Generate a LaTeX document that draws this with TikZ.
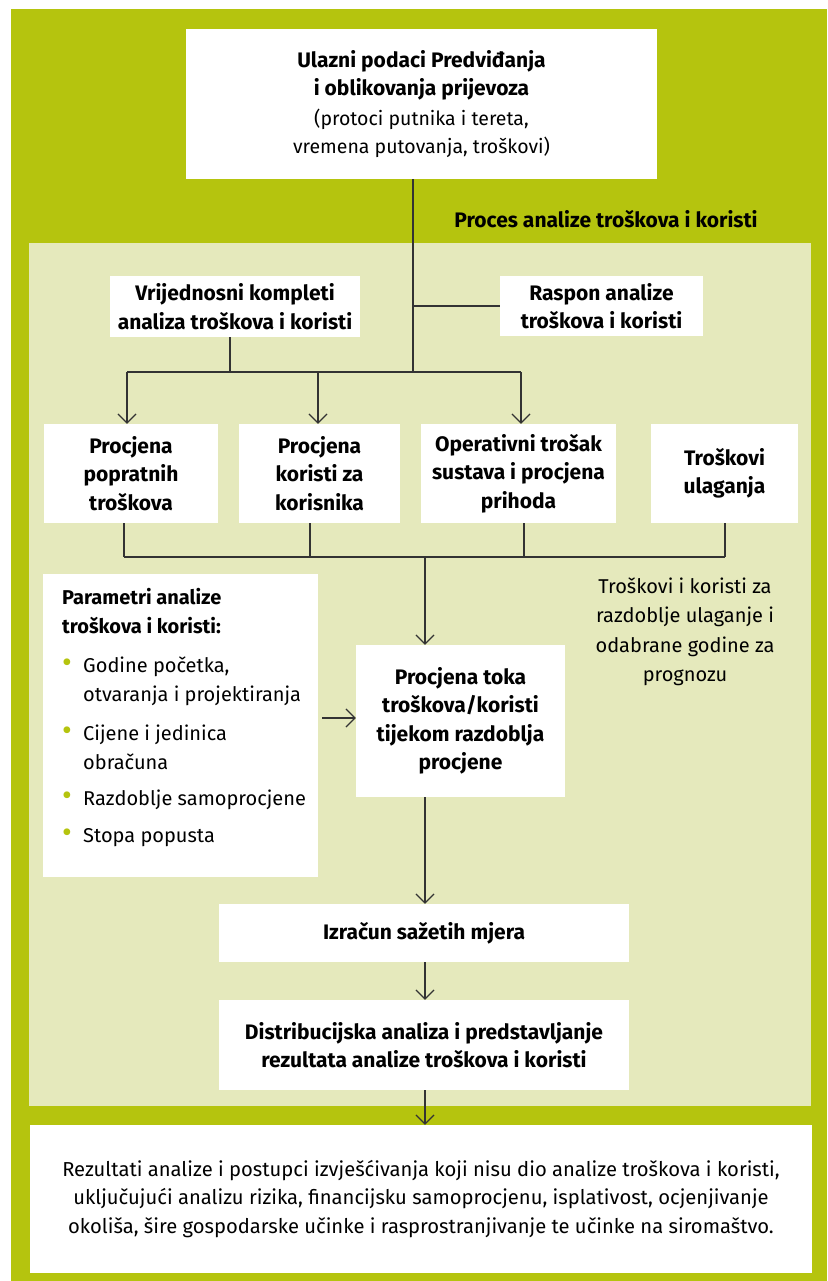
\documentclass[tikz,border=0pt]{standalone}
\usepackage{fontspec}
\setmainfont{Fira Sans}
\usepackage{xcolor,graphicx}
\usetikzlibrary{arrows.meta,calc,positioning}

\definecolor{cbagreen}{RGB}{181,196,14}
\definecolor{cbalight}{RGB}{229,233,188}
\definecolor{cbaline}{RGB}{51,51,51}

\newcommand{\boldsize}{\bfseries\fontsize{21}{28.5}\selectfont}
\newcommand{\plainsize}{\fontsize{20}{29.5}\selectfont}
\newcommand{\gbullet}{\makebox[21pt][l]{\textcolor{cbagreen}{\raisebox{-0.5pt}{\scalebox{1.5}{\textbullet}}}}}
\newcommand{\gindent}{\makebox[21pt]{}}

\tikzset{
  whitebox/.style={fill=white,inner sep=0pt,align=center,font=\boldsize},
  plaintext/.style={inner sep=0pt,align=center,font=\plainsize},
  link/.style={draw=cbaline,line width=1.2pt},
  flow/.style={link,-{Straight Barb[length=9pt,width=18pt,line width=1.2pt]}}
}

\begin{document}
\begin{tikzpicture}[x=1pt,y=-1pt]
\useasboundingbox (0,0) rectangle (827,1281);
\fill[cbagreen] (11,9) rectangle (827,1281);
\fill[cbalight] (29,243) rectangle (811,1106);

% input and process title
\node[whitebox,minimum width=471,minimum height=150] (inputs) at (421.5,104)
  {Ulazni podaci Predviđanja\\ i oblikovanja prijevoza\\[1pt]
   \mdseries\fontsize{19.5}{29}\selectfont (protoci putnika i tereta,\\ \mdseries\fontsize{19.5}{29}\selectfont vremena putovanja, troškovi)};
\node[plaintext,font=\boldsize] (title) at (606,219) {Proces analize troškova i koristi};

\node[whitebox,minimum width=250,minimum height=61] (valsets) at (235,306.5) {Vrijednosni kompleti\\analiza troškova i koristi};
\node[whitebox,minimum width=203,minimum height=60] (range) at (601.5,306) {Raspon analize\\troškova i koristi};

% estimates
\node[whitebox,minimum width=174,minimum height=99] (ext) at (131,473.5) {Procjena\\popratnih\\troškova};
\node[whitebox,minimum width=161,minimum height=99] (user) at (319.5,473.5) {Procjena\\koristi za\\korisnika};
\node[whitebox,minimum width=195,minimum height=99] (opcost) at (518.5,473.5) {Operativni trošak\\sustava i procjena\\prihoda};
\node[whitebox,minimum width=147,minimum height=99] (invest) at (724.5,473.5) {Troškovi\\ulaganja};

\node[fill=white,inner sep=0pt,minimum width=275,minimum height=303] (params) at (180.5,725.5) {};
\node[inner sep=0pt,align=left,anchor=north west,font=\fontsize{20}{29}\selectfont] (paramtext) at (62,588)
  {\textbf{Parametri analize}\\ \textbf{troškova i koristi:}\\[10pt]
   \gbullet Godine početka,\\ \gindent otvaranja i projektiranja\\[10pt]
   \gbullet Cijene i jedinica\\ \gindent obračuna\\[7pt]
   \gbullet Razdoblje samoprocjene\\[8pt]
   \gbullet Stopa popusta};

\node[whitebox,minimum width=209,minimum height=152] (cashflow) at (460.5,721) {Procjena toka\\troškova/koristi\\tijekom razdoblja\\procjene};
\node[plaintext] (note) at (685,632) {Troškovi i koristi za\\razdoblje ulaganje i\\odabrane godine za\\prognozu};

\node[whitebox,minimum width=410,minimum height=58] (summary) at (424,933) {Izračun sažetih mjera};
\node[whitebox,minimum width=410,minimum height=90] (distrib) at (424,1045) {Distribucijska analiza i predstavljanje\\rezultata analize troškova i koristi};

\node[fill=white,inner sep=0pt,minimum width=782,minimum height=148,align=center,font=\fontsize{20.2}{28.5}\selectfont] (results) at (421,1199)
  {Rezultati analize i postupci izvješćivanja koji nisu dio analize troškova i koristi,\\
   uključujući analizu rizika, financijsku samoprocjenu, isplativost, ocjenjivanje\\
   okoliša, šire gospodarske učinke i rasprostranjivanje te učinke na siromaštvo.};

% connectors
\coordinate (topbus) at (413,372);
\coordinate (midbus) at (425,557);
\draw[link] (inputs.south -| topbus) -- (topbus);
\draw[link] (range.west -| topbus) -- (range.west);
\draw[link] (valsets.south -| 230,0) -- (230,372);
\draw[link] (127,372) -- (521,372);
\foreach \xpos/\target in {127/ext,318/user,521/opcost}
  \draw[flow] (\xpos,372) -- (\target.north -| \xpos,0);
\foreach \xpos/\source in {124/ext,310/user,524/opcost,725/invest}
  \draw[link] (\source.south -| \xpos,0) -- (\xpos,557);
\draw[link] (124,557) -- (725,557);
\draw[flow] (midbus) -- (cashflow.north -| midbus);
\draw[flow] (params.east |- 0,718) ++(4,0) -- (cashflow.west |- 0,718);
\draw[flow] (cashflow.south -| midbus) -- (summary.north -| midbus);
\draw[flow] (summary.south -| midbus) -- (distrib.north -| midbus);
\draw[flow] (distrib.south -| midbus) -- (results.north -| midbus);
\end{tikzpicture}
\end{document}
